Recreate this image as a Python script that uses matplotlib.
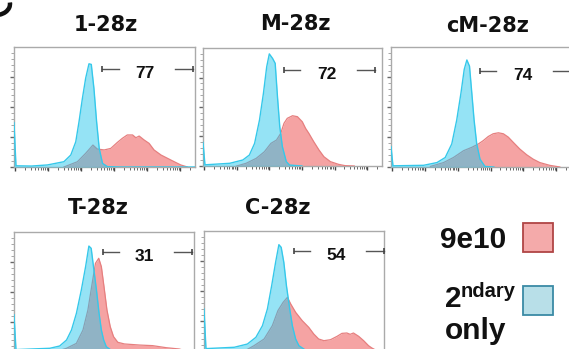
import matplotlib
matplotlib.use("Agg")
import matplotlib.pyplot as plt
from matplotlib.patches import Rectangle, Arc
from matplotlib.transforms import offset_copy
import numpy as np

# ---------------- data (x in log10 decades, y in % of panel height) -------------
titles = ["1-28z", "M-28z", "cM-28z", "T-28z", "C-28z"]
gate_pct = ["77", "72", "74", "31", "54"]
gate_lo = [2.64, 2.45, 2.68, 2.67, 2.70]
gate_hi = [5.39, 5.24, 5.44, 5.39, 5.45]
gate_y = [81.7, 81.4, 80.0, 83.3, 83.0]

# "2ndary only" (blue) histograms
blue_x1 = [-0.03, 0.03, 0.5, 0.98, 1.48, 1.69, 1.84, 1.94, 2.04, 2.14, 2.24, 2.31, 2.39, 2.47, 2.55, 2.65, 2.80, 3.2, 5.45]
blue_y1 = [37, 1.0, 0.8, 1.7, 4.4, 10, 21, 38, 57, 74, 86, 85.5, 65.5, 38, 15.5, 3, 0.3, 0, 0]
blue_x2 = [-0.03, 0.03, 0.79, 1.19, 1.39, 1.55, 1.70, 1.82, 1.92, 2.00, 2.10, 2.18, 2.25, 2.32, 2.40, 2.52, 2.62, 3.0]
blue_y2 = [20, 1.0, 2.3, 5.1, 9.3, 19.2, 39, 61.6, 84, 95, 91.2, 87, 58.7, 33.3, 16.4, 3.7, 0.8, 0]
blue_x3 = [-0.03, 0.03, 0.96, 1.37, 1.62, 1.82, 1.97, 2.10, 2.20, 2.28, 2.36, 2.43, 2.50, 2.58, 2.68, 2.83, 3.1]
blue_y3 = [17, 1.0, 1.4, 3.7, 7.9, 19.2, 39, 61.6, 81.4, 89.2, 84, 61.6, 39, 19.2, 6.5, 0.5, 0]
blue_x4 = [-0.03, 0.03, 1.06, 1.36, 1.57, 1.72, 1.87, 2.02, 2.15, 2.25, 2.32, 2.39, 2.48, 2.56, 2.63, 2.70, 2.78, 2.98, 3.3]
blue_y4 = [31, 2.0, 3.1, 5, 10, 18.3, 32.2, 51.7, 71.1, 88.3, 86.4, 71.1, 51.7, 32.2, 18.3, 10, 4.4, 0.5, 0]
blue_x5 = [-0.03, 0.03, 0.89, 1.29, 1.55, 1.75, 1.90, 2.03, 2.15, 2.25, 2.32, 2.40, 2.48, 2.58, 2.66, 2.76, 2.86, 3.1]
blue_y5 = [35, 2.0, 3.1, 5.8, 11.4, 21.1, 35, 54.4, 73.9, 88.6, 86.4, 73.9, 54.4, 35, 21.1, 10, 4.4, 0]

# "9e10" (red) histograms
red_x1 = [1.48, 1.89, 2.14, 2.36, 2.49, 2.70, 2.90, 3.10, 3.25, 3.40, 3.56, 3.66, 3.76, 3.91, 4.06, 4.21, 4.42, 4.62, 4.82, 5.02, 5.22]
red_y1 = [0, 4.4, 11.4, 18.3, 15, 14.2, 15.5, 20.5, 23.9, 26.7, 26.7, 24.4, 25.8, 22.5, 19.7, 14.2, 10, 7.2, 4.4, 1.7, 0]
red_x2 = [1.0, 1.29, 1.60, 1.85, 2.05, 2.22, 2.35, 2.45, 2.55, 2.71, 2.86, 3.01, 3.11, 3.21, 3.36, 3.52, 3.67, 3.87, 4.12, 4.32, 4.6]
red_y2 = [0, 2.3, 6.5, 12.1, 19.2, 22, 27.7, 36.2, 40.4, 42.6, 41.8, 37.5, 31.9, 27.7, 20.6, 13.6, 7.9, 3.7, 1.4, 0.3, 0]
red_x3 = [1.17, 1.57, 1.87, 2.18, 2.43, 2.63, 2.78, 2.93, 3.08, 3.24, 3.39, 3.54, 3.69, 3.89, 4.10, 4.30, 4.50, 4.80, 5.11]
red_y3 = [0.5, 3.7, 7.9, 13.6, 16.4, 19.2, 22, 25.4, 27.7, 28.5, 27.7, 24.9, 20.6, 15, 10.2, 6.5, 3.7, 1.4, 0]
red_x4 = [1.2, 1.57, 1.87, 2.07, 2.22, 2.35, 2.45, 2.55, 2.63, 2.71, 2.80, 2.90, 3.00, 3.13, 3.33, 3.79, 4.19, 4.60, 5.00, 5.3]
red_y4 = [0, 3.1, 7.2, 18.3, 35, 57.2, 73.9, 78.1, 71.1, 54.4, 35, 21.1, 12.8, 8.1, 6.7, 5.8, 5.3, 3.6, 2.5, 0]
red_x5 = [1.2, 1.49, 1.80, 2.05, 2.22, 2.38, 2.51, 2.61, 2.76, 2.96, 3.16, 3.31, 3.46, 3.62, 3.82, 4.02, 4.17, 4.32, 4.42, 4.52, 4.68, 4.83, 4.98, 5.08, 5.25]
red_y5 = [0, 4.4, 10, 21.1, 33.6, 40.6, 44.7, 39.2, 32.2, 25.3, 19.7, 14.2, 10, 8.6, 9.4, 12.2, 14.7, 15, 13.9, 15, 12.2, 8.6, 4.4, 2.5, 0]

legend_labels = ["9e10", "2", "ndary", "only"]

blue_x = [blue_x1, blue_x2, blue_x3, blue_x4, blue_x5]
blue_y = [blue_y1, blue_y2, blue_y3, blue_y4, blue_y5]
red_x = [red_x1, red_x2, red_x3, red_x4, red_x5]
red_y = [red_y1, red_y2, red_y3, red_y4, red_y5]

# ---------------- layout (pixels) ----------------
W, H = 569, 349
panel_px = [(14, 47, 181, 120), (203, 48, 179, 118), (391, 47, 180, 120),
            (14, 232, 180, 120), (204, 231, 180, 120)]
title_px = [(106, 31), (295, 29.5), (488, 31.5), (98, 213.5), (278, 214.5)]

RED_FILL = "#f5a3a3"
RED_EDGE = "#e67f7f"
BLUE_FILL = "#22c5ec"
BLUE_EDGE = "#35c8ea"

fig = plt.figure(figsize=(W / 100, H / 100), dpi=100)

def fx(x):
    return x / W

def fy(y):
    return 1 - y / H

for i in range(5):
    l, t, w, h = panel_px[i]
    ax = fig.add_axes([fx(l), fy(t + h), w / W, h / H])
    ax.fill_between(red_x[i], red_y[i], 0, color=RED_FILL, lw=0, zorder=2)
    ax.plot(red_x[i], red_y[i], color=RED_EDGE, lw=0.9, zorder=3)
    ax.fill_between(blue_x[i], blue_y[i], 0, color=BLUE_FILL, alpha=0.48, lw=0, zorder=4)
    ax.plot(blue_x[i], blue_y[i], color=BLUE_EDGE, lw=1.0, zorder=5)

    ax.set_xlim(-0.03, 5.45)
    ax.set_ylim(0, 100)
    ax.set_xticks(range(0, 6))
    minors = [d + np.log10(k) for d in range(0, 6) for k in range(2, 10) if d + np.log10(k) < 5.45]
    ax.set_xticks(minors, minor=True)
    ax.set_yticks([0, 25, 50, 75])
    ax.set_yticks(np.arange(0, 100, 5), minor=True)
    ax.set_xticklabels([])
    ax.set_yticklabels([])
    ax.tick_params(axis="x", which="major", direction="out", length=3, width=1.0, color="#444444")
    ax.tick_params(axis="x", which="minor", direction="out", length=2, width=0.7, color="#666666")
    ax.tick_params(axis="y", which="major", direction="out", length=3, width=1.0, color="#666666")
    ax.tick_params(axis="y", which="minor", direction="out", length=2, width=0.6, color="#999999")
    for s in ax.spines.values():
        s.set_color("#aaaaaa")
        s.set_linewidth(1.0)

    # gate annotation
    lo, hi, gy = gate_lo[i], gate_hi[i], gate_y[i]
    ax.plot([lo, lo + 0.5], [gy, gy], color="#555555", lw=1.0, clip_on=False, zorder=6)
    ax.plot([hi - 0.55, hi], [gy, gy], color="#555555", lw=1.0, clip_on=False, zorder=6)
    ax.plot([lo, hi], [gy, gy], ls="none", marker="|", ms=5, mew=1.2, color="#444444",
            clip_on=False, zorder=6)
    tr = offset_copy(ax.transData, fig=fig, x=0, y=-6.5, units="points")
    ax.text((lo + hi) / 2 - 0.08, gy, gate_pct[i], transform=tr, ha="center", va="baseline",
            fontsize=12.5, fontweight="bold", family="Liberation Sans", color="#111111")

    tx, ty = title_px[i]
    fig.text(fx(tx), fy(ty), titles[i], ha="center", va="baseline", fontsize=15,
             fontweight="bold", family="DejaVu Sans", color="#111111")

# fragment of a cut-off panel letter at the top-left corner (decorative stroke)
fig.add_artist(Arc((fx(-4), fy(4)), 28 / W, 22 / H, theta1=-100, theta2=10,
                   transform=fig.transFigure, color="#111111", lw=3.2))

# legend
fig.text(fx(440), fy(248), legend_labels[0], ha="left", va="baseline", fontsize=21.5,
         fontweight="bold", family="Liberation Sans", color="#111111")
fig.text(fx(445), fy(307), legend_labels[1], ha="left", va="baseline", fontsize=21.5,
         fontweight="bold", family="Liberation Sans", color="#111111")
fig.text(fx(461), fy(297), legend_labels[2], ha="left", va="baseline", fontsize=14.5,
         fontweight="bold", family="Liberation Sans", color="#111111")
fig.text(fx(445), fy(339), legend_labels[3], ha="left", va="baseline", fontsize=21.5,
         fontweight="bold", family="Liberation Sans", color="#111111")
fig.patches.append(Rectangle((fx(523), fy(252)), 30 / W, 29 / H, transform=fig.transFigure,
                             facecolor="#f4aaaa", edgecolor="#b04545", lw=1.3))
fig.patches.append(Rectangle((fx(523), fy(315)), 30 / W, 29 / H, transform=fig.transFigure,
                             facecolor="#b8dfe8", edgecolor="#3a8aa5", lw=1.3))

fig.savefig("out.png", dpi=100)
